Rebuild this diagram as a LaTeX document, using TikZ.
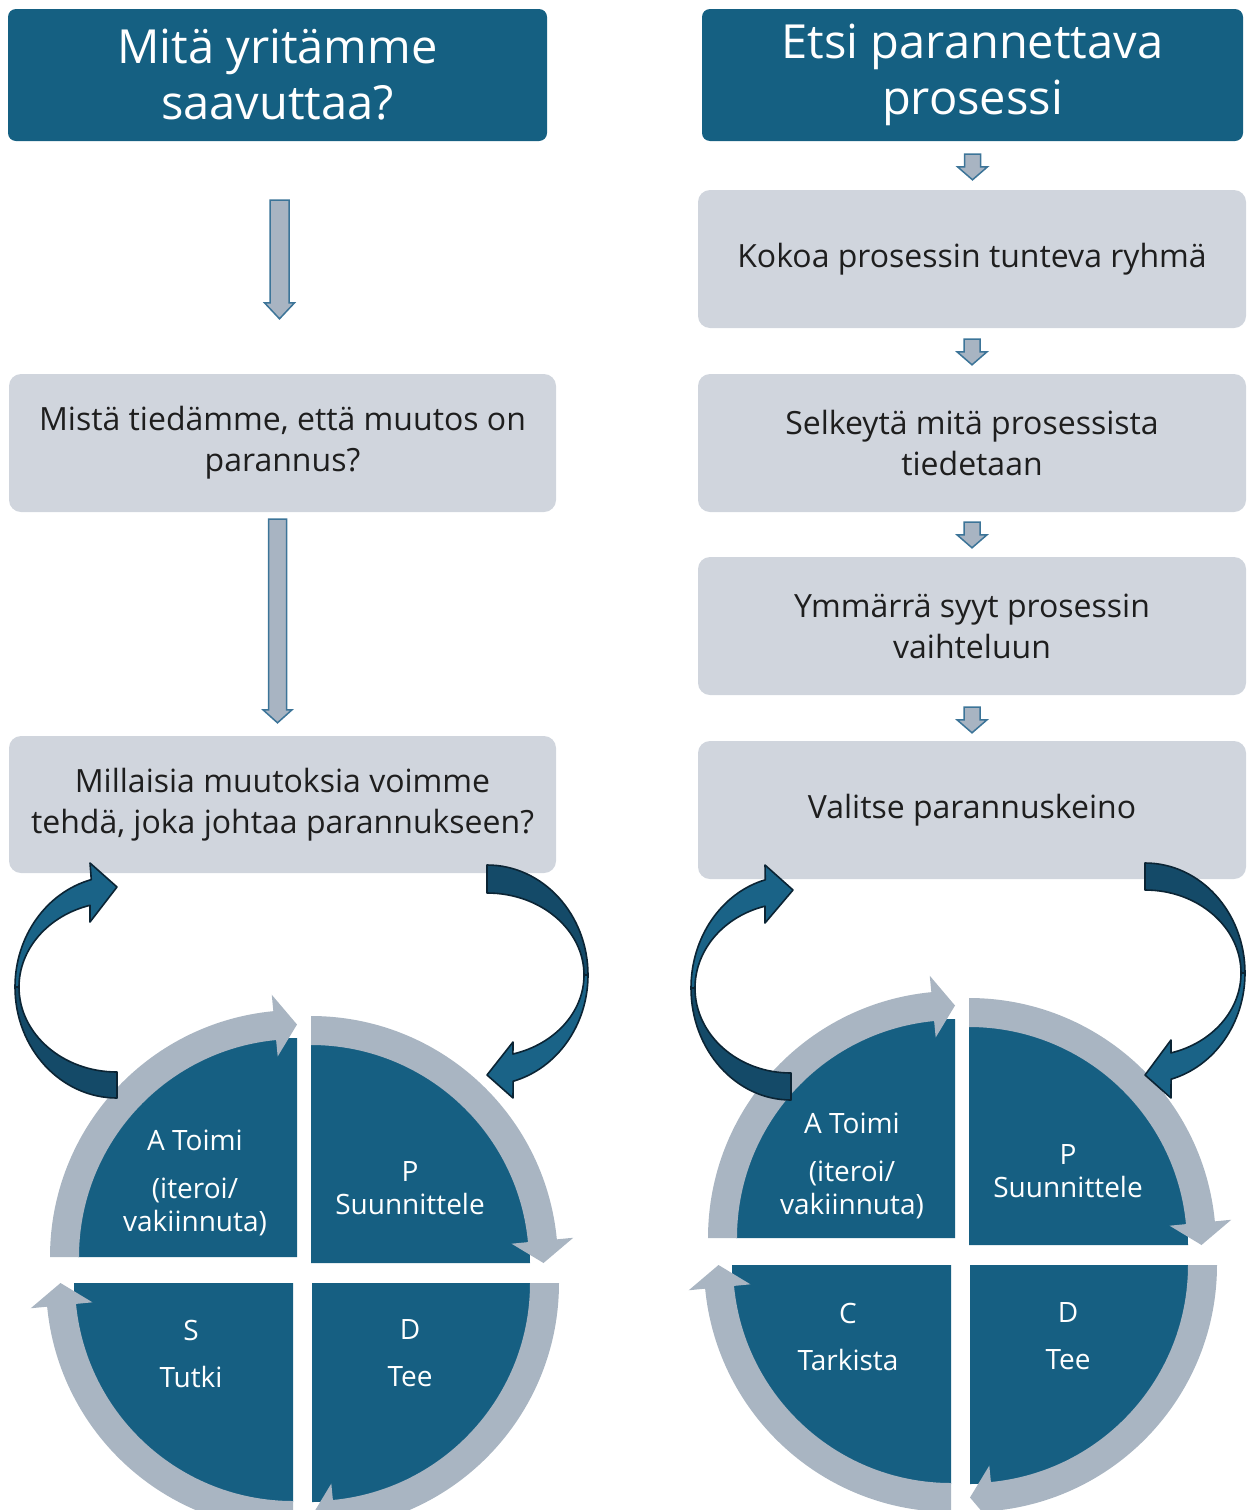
\documentclass[tikz,border=0pt]{standalone}
\usepackage{fontspec}
\setmainfont{Open Sans}
\usetikzlibrary{calc}

\definecolor{hdrblue}{HTML}{156082}
\definecolor{boxgrey}{HTML}{D0D5DD}
\definecolor{bandgrey}{HTML}{A9B5C2}
\definecolor{pieblue}{HTML}{165F82}
\definecolor{arrfill}{HTML}{A8B4C2}
\definecolor{arredge}{HTML}{3C7498}
\definecolor{riblight}{HTML}{1A6387}
\definecolor{ribdark}{HTML}{144A68}
\definecolor{ribedge}{HTML}{0B2434}
\definecolor{textdark}{HTML}{1E1E1E}

\newcommand{\hdrfont}{\fontsize{47}{56}\selectfont}
\newcommand{\boxfont}{\fontsize{32}{41}\selectfont}
\newcommand{\pdsafont}{\fontsize{28}{33}\selectfont}

% vertical block arrow: #1 start, #2 tip, #3 half shaft, #4 half head, #5 head length
\newcommand{\vblock}[5]{%
  \filldraw[blockarr] let \p1=(#1), \p2=(#2) in
    (\x1-#3,\y1) -- (\x1+#3,\y1) -- (\x1+#3,\y2+#5) -- (\x1+#4,\y2+#5)
    -- (\x1,\y2) -- (\x1-#4,\y2+#5) -- (\x1-#3,\y2+#5) -- cycle;}

% one quarter of the cycle: #1 corner, #2 start angle, #3 end angle (arrow tip)
\newcommand{\pdsaquad}[3]{%
  \begin{scope}[shift={(#1)}]
    \fill[pieblue] (0,0) -- (#2:219) arc[start angle=#2, end angle=#3, radius=219] -- cycle;
    \fill[bandgrey] (#2:218) arc[start angle=#2, end angle=#3-5.5, radius=218]
      -- (#3-5.5:201.5) -- (#3:232.5) -- (#3-5.5:263.5) -- (#3-5.5:247)
      arc[start angle=#3-5.5, end angle=#2, radius=247] -- cycle;
  \end{scope}}

\begin{document}
\begin{tikzpicture}[x=1pt,y=-1pt,
  hdr/.style={fill=hdrblue, rounded corners=8pt, minimum height=132pt,
    text=white, font=\hdrfont, align=center, inner sep=0pt},
  stepbox/.style={fill=boxgrey, rounded corners=12pt, minimum width=547pt,
    minimum height=138pt, text=textdark, font=\boxfont, align=center, inner sep=0pt},
  blockarr/.style={fill=arrfill, draw=arredge, line width=1.5pt, line join=miter},
  pdsatext/.style={text=white, font=\pdsafont, align=center, inner sep=0pt},
  ribback/.style={fill=ribdark, draw=ribedge, line width=1.6pt, line join=round},
  ribfront/.style={fill=riblight, draw=ribedge, line width=1.6pt, line join=round}]

\useasboundingbox (0,0) rectangle (1247,1510);
\clip (0,0) rectangle (1247,1510);

% ---------- left column ----------
\node[hdr, minimum width=539pt] (h1) at (277.5,75) {Mitä yritämme\\saavuttaa?};
\node[stepbox] (b1) at (282.5,443) {Mistä tiedämme, että muutos on\\parannus?};
\node[stepbox, minimum height=137pt] (b2) at (282.5,804.5) {Millaisia muutoksia voimme\\tehdä, joka johtaa parannukseen?};

\coordinate (l1s) at ([xshift=2pt,yshift=-59pt]h1.south);
\coordinate (l1e) at ([xshift=2pt,yshift=55pt]b1.north);
\coordinate (l2s) at ([xshift=-5pt,yshift=-7pt]b1.south);
\coordinate (l2e) at ([xshift=-5pt,yshift=13pt]b2.north);
\vblock{l1s}{l1e}{9.5pt}{15pt}{16pt}
\vblock{l2s}{l2e}{9pt}{14.5pt}{13pt}

% ---------- right column ----------
\node[hdr, minimum width=541pt] (h2) at (972.5,75) {Etsi parannettava\\prosessi};
\node[stepbox, minimum width=548pt] (r1) at (972,259) {Kokoa prosessin tunteva ryhmä};
\node[stepbox, minimum width=548pt] (r2) at (972,443) {Selkeytä mitä prosessista\\tiedetaan};
\node[stepbox, minimum width=548pt] (r3) at (972,626) {Ymmärrä syyt prosessin\\vaihteluun};
\node[stepbox, minimum width=548pt] (r4) at (972,810) {Valitse parannuskeino};

\coordinate (r0s) at ([yshift=-13pt]h2.south);
\coordinate (r0e) at ([yshift=10pt]r1.north);
\coordinate (r1s) at ([yshift=-11pt]r1.south);
\coordinate (r1e) at ([yshift=9pt]r2.north);
\coordinate (r2s) at ([yshift=-10pt]r2.south);
\coordinate (r2e) at ([yshift=9pt]r3.north);
\coordinate (r3s) at ([yshift=-12pt]r3.south);
\coordinate (r3e) at ([yshift=8pt]r4.north);
\vblock{r0s}{r0e}{8pt}{15pt}{13pt}
\vblock{r1s}{r1e}{8pt}{15pt}{13pt}
\vblock{r2s}{r2e}{8pt}{15pt}{13pt}
\vblock{r3s}{r3e}{8pt}{15pt}{13pt}

% ---------- left cycle (A, P, D, S) ----------
\coordinate (lqA) at (297,1257);
\coordinate (lqP) at (311,1263);
\coordinate (lqD) at (312,1283);
\coordinate (lqS) at (293,1283);
\pdsaquad{lqA}{180}{270}
\pdsaquad{lqP}{270}{360}
\pdsaquad{lqD}{0}{90}
\pdsaquad{lqS}{90}{180}

% ---------- right cycle (A, P, D, C) ----------
\coordinate (rqA) at (955,1238);
\coordinate (rqP) at (969,1245);
\coordinate (rqD) at (970,1265);
\coordinate (rqC) at (951,1265);
\pdsaquad{rqA}{180}{270}
\pdsaquad{rqP}{270}{360}
\pdsaquad{rqD}{0}{90}
\pdsaquad{rqC}{90}{180}

% ---------- ribbon arrows, left column ----------
\coordinate (la1) at (117,987);
\begin{scope}[shift={(la1)}]
  \filldraw[ribback] (90:102 and 111) arc[start angle=90, end angle=180, x radius=102, y radius=111]
    -- (180:98 and 85) arc[start angle=180, end angle=90, x radius=98, y radius=85] -- cycle;
  \filldraw[ribfront] (180:102 and 111) arc[start angle=180, end angle=255.4, x radius=102, y radius=111]
    -- (-27,-124) -- (0,-100) -- (-27,-65)
    -- (254:98 and 85) arc[start angle=254, end angle=180, x radius=98, y radius=85] -- cycle;
\end{scope}
\coordinate (ra1) at (487,975);
\begin{scope}[shift={(ra1)}]
  \filldraw[ribback] (270:101 and 110) arc[start angle=270, end angle=360, x radius=101, y radius=110]
    -- (360:97 and 82) arc[start angle=360, end angle=270, x radius=97, y radius=82] -- cycle;
  \filldraw[ribfront] (360:101 and 110) arc[start angle=360, end angle=435, x radius=101, y radius=110]
    -- (26,123) -- (0,100) -- (26,67)
    -- (434.5:97 and 82) arc[start angle=434.5, end angle=360, x radius=97, y radius=82] -- cycle;
\end{scope}

% ---------- ribbon arrows, right column ----------
\coordinate (la2) at (791,988);
\begin{scope}[shift={(la2)}]
  \filldraw[ribback] (90:100 and 112) arc[start angle=90, end angle=180, x radius=100, y radius=112]
    -- (180:96 and 85) arc[start angle=180, end angle=90, x radius=96, y radius=85] -- cycle;
  \filldraw[ribfront] (180:100 and 112) arc[start angle=180, end angle=255.1, x radius=100, y radius=112]
    -- (-26,-123) -- (2,-98) -- (-26,-65)
    -- (254.3:96 and 85) arc[start angle=254.3, end angle=180, x radius=96, y radius=85] -- cycle;
\end{scope}
\coordinate (ra2) at (1145,973);
\begin{scope}[shift={(ra2)}]
  \filldraw[ribback] (270:100 and 110) arc[start angle=270, end angle=360, x radius=100, y radius=110]
    -- (360:96 and 83) arc[start angle=360, end angle=270, x radius=96, y radius=83] -- cycle;
  \filldraw[ribfront] (360:100 and 110) arc[start angle=360, end angle=434.9, x radius=100, y radius=110]
    -- (26,125) -- (0,102) -- (26,67)
    -- (434.3:96 and 83) arc[start angle=434.3, end angle=360, x radius=96, y radius=83] -- cycle;
\end{scope}

% ---------- cycle labels ----------
\node[pdsatext] (ltA) at (195,1182.5) {A Toimi\\[15pt](iteroi/\\vakiinnuta)};
\node[pdsatext] (ltP) at (410,1188.5) {P\\Suunnittele};
\node[pdsatext] (ltS) at (191,1353.5) {S\\[14pt]Tutki};
\node[pdsatext] (ltD) at (410,1353.5) {D\\[14pt]Tee};

\node[pdsatext] (rtA) at (852,1165.5) {A Toimi\\[15pt](iteroi/\\vakiinnuta)};
\node[pdsatext] (rtP) at (1068,1171.5) {P\\Suunnittele};
\node[pdsatext] (rtC) at (848,1336.5) {C\\[14pt]Tarkista};
\node[pdsatext] (rtD) at (1068,1336.5) {D\\[14pt]Tee};
\end{tikzpicture}
\end{document}
